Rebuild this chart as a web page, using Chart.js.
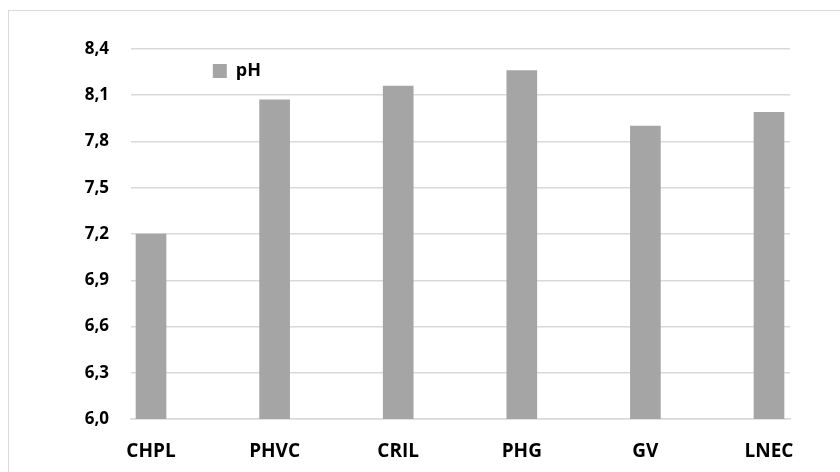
<!DOCTYPE html>
<html>
<head>
<meta charset="utf-8">
<script src="https://cdn.jsdelivr.net/npm/chart.js@4.4.1/dist/chart.umd.min.js"></script>
<style>
  html, body { margin: 0; padding: 0; background: #fff; overflow: hidden; }
  #frame { position: absolute; left: 8px; top: 10px; width: 900px; height: 520px;
           border: 1px solid #d9d9d9; box-sizing: border-box; }
  #chart { position: absolute; left: 0; top: 0; }
</style>
</head>
<body>
<div id="frame"></div>
<canvas id="chart" width="840" height="472"></canvas>
<script>
// Sampling sites and their measured pH
const categories = ['CHPL', 'PHVC', 'CRIL', 'PHG', 'GV', 'LNEC'];
const phValues = [7.20, 8.07, 8.16, 8.26, 7.90, 7.99];
const seriesName = 'pH';

// Value axis range and step
const yMin = 6.0;
const yMax = 8.4;
const yStep = 0.3;

const gridColor = '#d9d9d9';
const barColor = '#a5a5a5';
const fontFamily = "'Open Sans', 'Liberation Sans', sans-serif";

// Places the legend entry inside the plot, between the first two sites
const legendShift = {
  id: 'legendShift',
  beforeDraw(chart) {
    const lg = chart.legend;
    if (!lg) return;
    const pad = lg.options.labels.padding;
    lg.left = chart.scales.x.getPixelForValue(0.5) - pad;
    lg.top = chart.chartArea.top + 1;
  }
};

new Chart(document.getElementById('chart'), {
  type: 'bar',
  data: {
    datasets: [{
      label: seriesName,
      data: categories.map((c, i) => ({ x: i, y: phValues[i] })),
      backgroundColor: barColor,
      borderWidth: 0,
      barThickness: 30
    }]
  },
  options: {
    responsive: false,
    animation: false,
    layout: { padding: { left: 8, top: 49, right: 50, bottom: 0 } },
    plugins: {
      tooltip: { enabled: false },
      legend: {
        position: 'chartArea',
        align: 'start',
        labels: {
          boxWidth: 14,
          boxHeight: 14,
          padding: 12,
          color: '#000',
          font: { family: fontFamily, size: 18, weight: 'bold' }
        }
      }
    },
    scales: {
      x: {
        type: 'linear',
        offset: false,
        min: -0.162,
        max: 5.17,
        grid: { display: false, drawTicks: false, offset: false },
        border: { display: true, color: gridColor, width: 1.5 },
        afterBuildTicks(scale) {
          scale.ticks = categories.map((c, i) => ({ value: i }));
        },
        afterFit(scale) { scale.height = 53; },
        ticks: {
          padding: 21,
          color: '#000',
          font: { family: fontFamily, size: 19, weight: 'bold' },
          maxRotation: 0,
          autoSkip: false,
          callback: (v) => categories[v]
        }
      },
      y: {
        min: yMin,
        max: yMax,
        border: { display: false },
        grid: { color: gridColor, lineWidth: 1.5, drawTicks: false },
        afterFit(scale) { scale.width = 123; },
        ticks: {
          stepSize: yStep,
          padding: 22,
          color: '#000',
          font: { family: fontFamily, size: 17, weight: 'bold' },
          callback: (v) => Number(v).toFixed(1).replace('.', ',')
        }
      }
    }
  },
  plugins: [legendShift]
});
</script>
</body>
</html>
